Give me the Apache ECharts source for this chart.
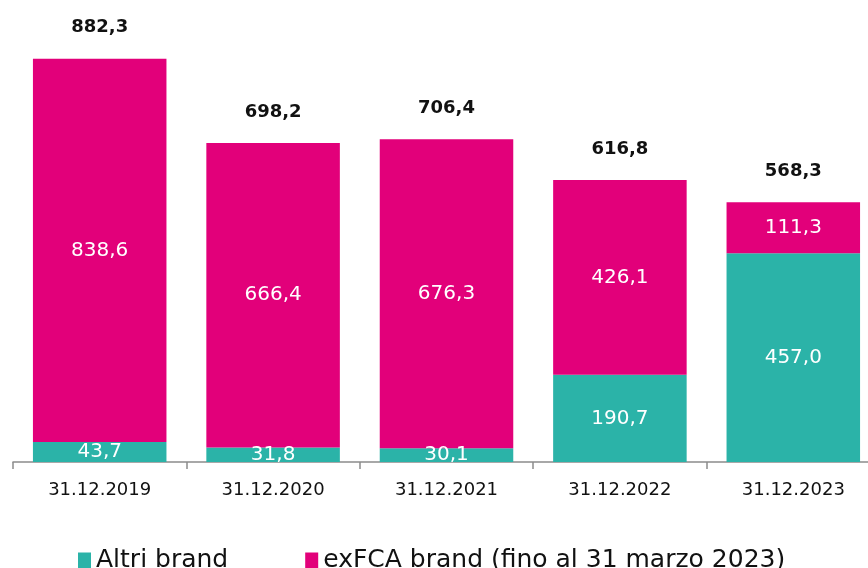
<!DOCTYPE html>
<html>
<head>
<meta charset="utf-8">
<script src="https://cdn.jsdelivr.net/npm/echarts@6/dist/echarts.min.js"></script>
<style>
  html, body { margin: 0; padding: 0; background: #fff; overflow: hidden; }
  #chart { width: 882px; height: 568px; }
</style>
</head>
<body>
<div id="chart"></div>
<script>
const categories = ['31.12.2019', '31.12.2020', '31.12.2021', '31.12.2022', '31.12.2023'];
const altriBrand = [43.7, 31.8, 30.1, 190.7, 457.0];
const exFcaBrand = [838.6, 666.4, 676.3, 426.1, 111.3];
const totals = [882.3, 698.2, 706.4, 616.8, 568.3];

const fmt = v => v.toFixed(1).replace('.', ',');
const FONT = '"DejaVu Sans", sans-serif';

const chart = echarts.init(document.getElementById('chart'));

chart.setOption({
  animation: false,
  textStyle: { fontFamily: FONT },
  grid: { left: 13, right: 2, top: 5, bottom: 106, containLabel: false },
  legend: {
    top: 543,
    left: 73,
    itemWidth: 13,
    itemHeight: 16,
    itemGap: 77,
    icon: 'rect',
    textStyle: { fontSize: 25, color: '#111', fontFamily: FONT },
    data: ['Altri brand', 'exFCA brand (fino al 31 marzo 2023)']
  },
  xAxis: {
    type: 'category',
    data: categories,
    axisLine: { lineStyle: { color: '#8c8c8c', width: 1.5 } },
    axisTick: { show: true, length: 7, lineStyle: { color: '#8c8c8c', width: 1.5 } },
    axisLabel: { color: '#111', fontSize: 18, margin: 19, fontFamily: FONT }
  },
  yAxis: {
    type: 'value',
    min: 0,
    max: 1000,
    show: false,
    splitLine: { show: false }
  },
  series: [
    {
      name: 'Altri brand',
      type: 'bar',
      stack: 'tot',
      barCategoryGap: '23%',
      data: altriBrand,
      itemStyle: { color: '#2bb3a8' },
      label: {
        show: true,
        position: 'inside',
        color: '#fff',
        fontSize: 20,
        fontFamily: FONT,
        formatter: p => fmt(p.value)
      }
    },
    {
      name: 'exFCA brand (fino al 31 marzo 2023)',
      type: 'bar',
      stack: 'tot',
      data: exFcaBrand,
      itemStyle: { color: '#e2007a' },
      label: {
        show: true,
        position: 'inside',
        color: '#fff',
        fontSize: 20,
        fontFamily: FONT,
        formatter: p => fmt(p.value)
      }
    },
    {
      name: 'totale',
      type: 'bar',
      stack: 'tot',
      data: totals.map(() => 0),
      itemStyle: { color: 'transparent' },
      label: {
        show: true,
        position: 'top',
        distance: 22,
        color: '#111',
        fontSize: 18,
        fontWeight: 'bold',
        fontFamily: FONT,
        formatter: p => fmt(totals[p.dataIndex])
      }
    }
  ]
});
</script>
</body>
</html>
